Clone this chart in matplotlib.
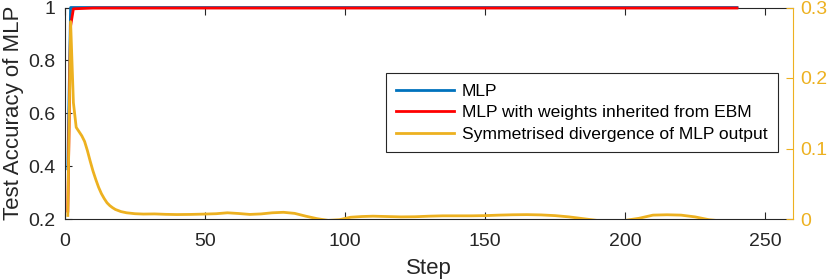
import matplotlib.pyplot as plt

plt.rcParams['font.family'] = ['Liberation Sans', 'DejaVu Sans']

# MATLAB default colours
BLUE = '#0072BD'
RED = '#FF0000'
YELLOW = '#EDB120'
AXC = '#262626'

# Test accuracy (left axis)
mlp_steps = [1, 2, 3, 240]
mlp_acc = [0.39, 1.0, 1.0, 1.0]

ebm_steps = [1, 2, 3, 10, 240]
ebm_acc = [0.23, 0.93, 0.995, 0.998, 0.998]

# Symmetrised divergence (right axis)
div_steps = [1, 2, 3, 4, 5, 6, 7, 8, 9, 10, 11, 12, 13, 14, 15, 16, 17, 18,
             19, 20, 22, 25, 28, 32, 36, 40, 45, 50, 54, 58, 62, 66, 70, 74,
             78, 82, 86, 90, 94, 98, 102, 106, 110, 115, 120, 125, 130, 135,
             140, 145, 150, 155, 160, 165, 170, 175, 180, 185, 190, 195, 200,
             205, 210, 215, 220, 225, 230, 235, 240]
div_vals = [0.005, 0.28, 0.165, 0.13, 0.124, 0.118, 0.11, 0.097, 0.082, 0.068,
            0.056, 0.045, 0.036, 0.029, 0.023, 0.019, 0.016, 0.0135, 0.012,
            0.0105, 0.0088, 0.0075, 0.007, 0.0072, 0.0066, 0.0063, 0.0065,
            0.007, 0.0075, 0.0088, 0.0078, 0.0065, 0.0072, 0.0088, 0.0095,
            0.008, 0.004, 0.0005, -0.002, -0.001, 0.0025, 0.0035, 0.004,
            0.0035, 0.003, 0.0032, 0.004, 0.0045, 0.0045, 0.0045, 0.0048,
            0.0055, 0.006, 0.0062, 0.0058, 0.0048, 0.003, 0.0005, -0.002,
            -0.003, -0.002, 0.001, 0.0055, 0.006, 0.0055, 0.003, -0.001,
            -0.003, -0.004]

xticks = [0, 50, 100, 150, 200, 250]
yticks_left = [0.2, 0.4, 0.6, 0.8, 1.0]
yticks_right = [0, 0.1, 0.2, 0.3]

fig = plt.figure(figsize=(8.3, 2.8), dpi=100)
ax = fig.add_axes([65 / 830, 1 - 219 / 280, 728 / 830, 211.5 / 280])
ax2 = ax.twinx()

# accuracy lines sit above the top spine, like in the original
l1, = ax.plot(mlp_steps, mlp_acc, color=BLUE, lw=2, label='MLP',
              clip_on=False, zorder=3)
l2, = ax.plot(ebm_steps, ebm_acc, color=RED, lw=2,
              label='MLP with weights inherited from EBM', clip_on=False,
              zorder=3)
l3, = ax2.plot(div_steps, div_vals, color=YELLOW, lw=2,
               label='Symmetrised divergence of MLP output')

ax.set_xlim(0, 260)
ax.set_ylim(0.2, 1.0)
ax2.set_ylim(0, 0.3)

ax.set_xticks(xticks)
ax.set_yticks(yticks_left)
ax.set_yticklabels(['0.2', '0.4', '0.6', '0.8', '1'])
ax2.set_yticks(yticks_right)
ax2.set_yticklabels(['0', '0.1', '0.2', '0.3'])

for s in ['left', 'bottom', 'top']:
    ax.spines[s].set_color(AXC)
    ax.spines[s].set_linewidth(0.8)
ax.spines['right'].set_visible(False)
for s in ['left', 'bottom', 'top']:
    ax2.spines[s].set_visible(False)
ax2.spines['right'].set_color(YELLOW)
ax2.spines['right'].set_linewidth(0.8)

ax.tick_params(axis='x', direction='in', top=True, length=5, width=0.8,
               color=AXC, labelcolor=AXC, labelsize=14, pad=10)
ax.tick_params(axis='y', direction='in', right=False, length=5, width=0.8,
               color=AXC, labelcolor=AXC, labelsize=14, pad=7)
ax2.tick_params(axis='y', direction='in', length=5, width=0.8,
                color=YELLOW, labelcolor=YELLOW, labelsize=14, pad=5)

ax.set_xlabel('Step', fontsize=16, color=AXC, labelpad=6)
ax.set_ylabel('Test Accuracy of MLP', fontsize=16, color=AXC, labelpad=3)

leg = ax2.legend(handles=[l1, l2, l3], loc='upper right',
                 bbox_to_anchor=(778 / 830, 1 - 73 / 280),
                 bbox_transform=fig.transFigure, fontsize=12.6,
                 frameon=True, fancybox=False, framealpha=1,
                 handlelength=3.3, labelspacing=0.36, borderpad=0.6,
                 handletextpad=0.45, borderaxespad=0)
leg.get_frame().set_edgecolor(AXC)
leg.get_frame().set_linewidth(0.8)

fig.savefig('out.png', dpi=100)
